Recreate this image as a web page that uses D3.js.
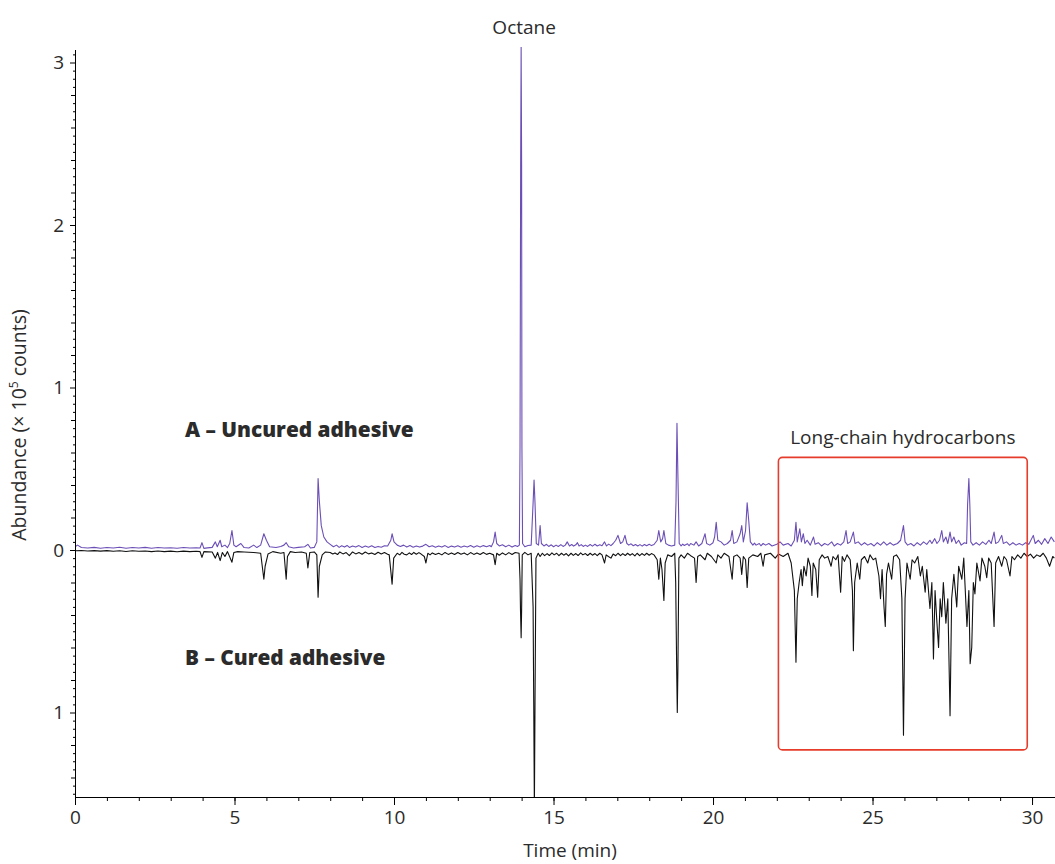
<!DOCTYPE html>
<html>
<head>
<meta charset="utf-8">
<script src="https://cdn.jsdelivr.net/npm/d3@7"></script>
<style>
  body { margin: 0; background: #fff; }
  text { font-family: "Open Sans", "Liberation Sans", sans-serif; fill: #2b2b2b; }
</style>
</head>
<body>
<script>
const width = 1055;
const height = 864;

// 目盛り
const xTicks = [0, 5, 10, 15, 20, 25, 30];
const yTicks = [-1, 0, 1, 2, 3];

// A: 未硬化 (上向き) [時間(min), 強度(×10^5)]
const uncured = [
  [0,0.02],[0.08,0.03],[0.2,0.015],[0.4,0.012],[0.6,0.016],[0.8,0.011],[1.0,0.015],[1.2,0.012],
  [1.4,0.017],[1.6,0.011],[1.8,0.015],[2.0,0.012],[2.2,0.016],[2.4,0.011],[2.6,0.015],[2.8,0.012],
  [3.0,0.014],[3.2,0.011],[3.4,0.015],[3.6,0.012],[3.8,0.014],[3.92,0.012],[3.98,0.045],[4.04,0.01],
  [4.15,0.013],[4.3,0.016],[4.4,0.05],[4.46,0.02],[4.55,0.06],[4.6,0.02],[4.7,0.03],[4.78,0.015],
  [4.85,0.04],[4.92,0.12],[4.98,0.03],[5.05,0.02],[5.2,0.04],[5.3,0.015],[5.45,0.012],[5.6,0.03],
  [5.7,0.015],[5.82,0.03],[5.92,0.1],[6.0,0.06],[6.1,0.02],[6.3,0.015],[6.45,0.022],[6.55,0.03],
  [6.62,0.045],[6.7,0.02],[6.85,0.012],[7.0,0.016],[7.2,0.02],[7.3,0.035],[7.38,0.012],[7.5,0.016],
  [7.58,0.05],[7.62,0.44],[7.66,0.3],[7.72,0.15],[7.8,0.08],[7.9,0.05],[8.0,0.035],[8.1,0.02],
  [8.2,0.03],[8.28,0.016],[8.36,0.026],[8.45,0.018],[8.53,0.028],[8.6,0.016],[8.7,0.025],[8.8,0.018],
  [8.9,0.027],[9.0,0.015],[9.1,0.024],[9.2,0.017],[9.3,0.026],[9.4,0.015],[9.5,0.022],[9.6,0.017],
  [9.7,0.026],[9.8,0.025],[9.9,0.06],[9.94,0.1],[10.0,0.05],[10.1,0.03],[10.2,0.022],[10.3,0.03],
  [10.4,0.018],[10.5,0.027],[10.6,0.017],[10.7,0.025],[10.8,0.018],[10.9,0.024],[11.0,0.035],[11.1,0.02],
  [11.2,0.026],[11.3,0.017],[11.4,0.025],[11.5,0.018],[11.6,0.027],[11.7,0.016],[11.8,0.024],[11.9,0.018],
  [12.0,0.026],[12.1,0.017],[12.2,0.025],[12.3,0.019],[12.4,0.028],[12.5,0.017],[12.6,0.026],[12.7,0.019],
  [12.8,0.027],[12.9,0.02],[13.0,0.028],[13.05,0.02],[13.12,0.05],[13.17,0.11],[13.22,0.04],[13.3,0.025],
  [13.4,0.032],[13.5,0.02],[13.6,0.03],[13.7,0.018],[13.8,0.028],[13.87,0.022],[13.93,0.03],[13.95,0.63],
  [13.97,2.37],[13.985,3.1],[14.0,2.37],[14.01,0.63],[14.03,0.04],[14.1,0.02],[14.2,0.028],[14.3,0.03],
  [14.36,0.29],[14.39,0.43],[14.42,0.29],[14.46,0.04],[14.53,0.03],[14.58,0.15],[14.62,0.04],[14.7,0.025],
  [14.78,0.035],[14.85,0.022],[14.93,0.032],[15.0,0.02],[15.08,0.03],[15.15,0.022],[15.23,0.033],[15.3,0.022],
  [15.37,0.03],[15.43,0.05],[15.5,0.025],[15.57,0.034],[15.63,0.024],[15.7,0.032],[15.75,0.045],[15.8,0.025],
  [15.87,0.033],[15.93,0.022],[16.0,0.03],[16.07,0.022],[16.15,0.034],[16.22,0.024],[16.3,0.035],[16.37,0.025],
  [16.45,0.032],[16.52,0.026],[16.6,0.05],[16.66,0.025],[16.73,0.036],[16.8,0.027],[16.87,0.04],[16.95,0.06],
  [17.02,0.09],[17.1,0.04],[17.17,0.05],[17.24,0.09],[17.3,0.04],[17.36,0.03],[17.43,0.038],[17.5,0.026],
  [17.57,0.034],[17.64,0.025],[17.71,0.033],[17.78,0.024],[17.85,0.034],[17.92,0.026],[18.0,0.035],[18.07,0.027],
  [18.15,0.034],[18.25,0.06],[18.3,0.12],[18.36,0.05],[18.42,0.07],[18.46,0.12],[18.52,0.04],[18.6,0.03],
  [18.7,0.025],[18.8,0.03],[18.84,0.3],[18.87,0.78],[18.9,0.45],[18.94,0.04],[19.0,0.025],[19.05,0.036],
  [19.1,0.028],[19.2,0.038],[19.25,0.026],[19.3,0.04],[19.4,0.03],[19.47,0.05],[19.55,0.025],[19.65,0.04],
  [19.75,0.1],[19.8,0.04],[19.9,0.03],[20.0,0.045],[20.05,0.08],[20.1,0.17],[20.15,0.06],[20.25,0.05],
  [20.35,0.03],[20.45,0.04],[20.55,0.06],[20.6,0.12],[20.65,0.04],[20.75,0.05],[20.85,0.1],[20.9,0.15],
  [20.95,0.05],[21.02,0.12],[21.07,0.29],[21.12,0.18],[21.17,0.05],[21.25,0.03],[21.3,0.042],[21.35,0.03],
  [21.45,0.04],[21.5,0.026],[21.57,0.04],[21.65,0.03],[21.75,0.04],[21.85,0.025],[22.0,0.035],[22.1,0.05],
  [22.2,0.03],[22.35,0.04],[22.45,0.025],[22.55,0.06],[22.6,0.17],[22.64,0.05],[22.72,0.13],[22.77,0.05],
  [22.83,0.1],[22.88,0.04],[22.95,0.06],[23.05,0.03],[23.15,0.08],[23.2,0.035],[23.3,0.045],[23.4,0.025],
  [23.5,0.04],[23.6,0.03],[23.72,0.05],[23.8,0.025],[23.9,0.04],[24.0,0.03],[24.1,0.05],[24.17,0.12],
  [24.22,0.04],[24.3,0.05],[24.4,0.11],[24.45,0.04],[24.55,0.05],[24.65,0.03],[24.75,0.045],[24.85,0.03],
  [24.95,0.04],[25.05,0.025],[25.15,0.045],[25.25,0.03],[25.35,0.05],[25.45,0.03],[25.55,0.045],[25.65,0.03],
  [25.78,0.04],[25.88,0.06],[25.97,0.15],[26.02,0.05],[26.1,0.03],[26.2,0.04],[26.3,0.025],[26.4,0.045],
  [26.5,0.03],[26.6,0.05],[26.7,0.035],[26.8,0.06],[26.86,0.04],[26.95,0.07],[27.02,0.04],[27.1,0.06],
  [27.17,0.12],[27.22,0.05],[27.3,0.08],[27.36,0.04],[27.43,0.11],[27.48,0.05],[27.55,0.08],[27.62,0.04],
  [27.7,0.06],[27.78,0.03],[27.88,0.045],[27.95,0.04],[27.98,0.28],[28.02,0.44],[28.05,0.28],[28.08,0.05],
  [28.15,0.03],[28.25,0.045],[28.35,0.03],[28.45,0.05],[28.55,0.035],[28.65,0.06],[28.72,0.04],[28.81,0.11],
  [28.86,0.04],[28.95,0.05],[29.05,0.09],[29.1,0.04],[29.2,0.05],[29.3,0.03],[29.4,0.045],[29.5,0.03],
  [29.6,0.04],[29.7,0.03],[29.8,0.045],[29.9,0.035],[30.04,0.09],[30.1,0.04],[30.2,0.06],[30.3,0.035],
  [30.4,0.07],[30.5,0.04],[30.6,0.08],[30.7,0.05]
];

// B: 硬化後 (下向きに描く) [時間(min), 強度(×10^5)]
const cured = [
  [0,0.005],[0.2,0.003],[0.4,0.006],[0.6,0.004],[0.8,0.007],[1.0,0.004],[1.2,0.008],[1.4,0.005],
  [1.6,0.009],[1.8,0.005],[2.0,0.008],[2.2,0.006],[2.4,0.01],[2.6,0.006],[2.8,0.01],[3.0,0.007],
  [3.2,0.011],[3.4,0.007],[3.6,0.01],[3.8,0.008],[3.92,0.01],[3.98,0.045],[4.04,0.01],[4.3,0.012],
  [4.4,0.05],[4.47,0.015],[4.55,0.065],[4.62,0.015],[4.7,0.04],[4.78,0.01],[4.92,0.075],[4.98,0.015],
  [5.1,0.01],[5.3,0.012],[5.6,0.015],[5.82,0.02],[5.92,0.18],[5.96,0.1],[6.05,0.025],[6.2,0.01],
  [6.45,0.02],[6.55,0.015],[6.62,0.18],[6.66,0.04],[6.75,0.01],[6.9,0.015],[7.1,0.012],[7.25,0.02],
  [7.3,0.11],[7.36,0.015],[7.5,0.012],[7.58,0.03],[7.62,0.29],[7.66,0.1],[7.75,0.03],[7.85,0.012],
  [8.0,0.015],[8.08,0.025],[8.15,0.018],[8.23,0.028],[8.3,0.012],[8.4,0.024],[8.5,0.016],[8.6,0.035],
  [8.7,0.012],[8.8,0.024],[8.9,0.016],[9.0,0.026],[9.1,0.012],[9.2,0.024],[9.3,0.018],[9.4,0.028],
  [9.5,0.014],[9.6,0.025],[9.7,0.016],[9.8,0.026],[9.85,0.03],[9.94,0.21],[9.99,0.05],[10.1,0.02],
  [10.18,0.03],[10.25,0.015],[10.32,0.026],[10.4,0.03],[10.48,0.018],[10.55,0.028],[10.62,0.015],[10.7,0.026],
  [10.78,0.016],[10.85,0.025],[10.95,0.04],[11.0,0.08],[11.06,0.02],[11.13,0.03],[11.2,0.018],[11.3,0.028],
  [11.4,0.02],[11.5,0.03],[11.6,0.015],[11.7,0.027],[11.8,0.018],[11.9,0.028],[12.0,0.015],[12.1,0.026],
  [12.2,0.018],[12.3,0.03],[12.4,0.016],[12.5,0.027],[12.6,0.018],[12.7,0.028],[12.8,0.015],[12.9,0.027],
  [13.0,0.02],[13.12,0.03],[13.17,0.09],[13.22,0.02],[13.3,0.032],[13.4,0.018],[13.5,0.03],[13.6,0.016],
  [13.7,0.028],[13.8,0.015],[13.92,0.02],[13.95,0.18],[13.965,0.37],[13.985,0.54],[14.0,0.37],[14.02,0.03],
  [14.1,0.015],[14.2,0.03],[14.3,0.02],[14.36,0.35],[14.38,0.94],[14.4,1.6],[14.42,0.94],[14.45,0.05],
  [14.52,0.02],[14.58,0.04],[14.65,0.02],[14.72,0.035],[14.8,0.022],[14.87,0.034],[14.95,0.018],[15.02,0.03],
  [15.1,0.02],[15.17,0.035],[15.25,0.02],[15.32,0.032],[15.4,0.022],[15.47,0.036],[15.55,0.02],[15.62,0.033],
  [15.7,0.022],[15.77,0.034],[15.85,0.018],[15.92,0.03],[16.0,0.022],[16.07,0.034],[16.15,0.02],[16.22,0.032],
  [16.3,0.022],[16.37,0.035],[16.45,0.02],[16.52,0.03],[16.6,0.08],[16.65,0.03],[16.72,0.04],[16.8,0.05],
  [16.87,0.025],[16.95,0.035],[17.02,0.02],[17.1,0.035],[17.17,0.022],[17.25,0.034],[17.32,0.02],[17.4,0.032],
  [17.47,0.022],[17.55,0.036],[17.62,0.02],[17.7,0.035],[17.77,0.022],[17.85,0.033],[17.92,0.02],[18.0,0.032],
  [18.07,0.022],[18.15,0.03],[18.25,0.06],[18.3,0.18],[18.35,0.05],[18.4,0.12],[18.46,0.31],[18.5,0.08],
  [18.58,0.03],[18.7,0.04],[18.8,0.02],[18.83,0.2],[18.86,0.72],[18.88,1.0],[18.9,0.72],[18.93,0.05],
  [19.0,0.03],[19.1,0.05],[19.2,0.02],[19.3,0.035],[19.42,0.05],[19.47,0.2],[19.52,0.04],[19.6,0.03],
  [19.75,0.06],[19.82,0.02],[19.95,0.04],[20.1,0.08],[20.15,0.03],[20.25,0.05],[20.35,0.02],[20.5,0.04],
  [20.6,0.18],[20.65,0.04],[20.75,0.03],[20.85,0.05],[20.9,0.15],[20.95,0.04],[21.02,0.06],[21.07,0.23],
  [21.12,0.05],[21.25,0.03],[21.4,0.04],[21.5,0.02],[21.57,0.1],[21.62,0.03],[21.8,0.02],[21.95,0.05],
  [22.05,0.025],[22.2,0.04],[22.35,0.02],[22.45,0.08],[22.55,0.25],[22.6,0.69],[22.64,0.3],[22.7,0.2],
  [22.76,0.12],[22.8,0.22],[22.85,0.1],[22.92,0.16],[22.98,0.05],[23.05,0.1],[23.1,0.28],[23.14,0.08],
  [23.22,0.12],[23.28,0.29],[23.33,0.06],[23.42,0.03],[23.5,0.05],[23.6,0.04],[23.7,0.1],[23.76,0.04],
  [23.85,0.06],[23.92,0.03],[24.0,0.26],[24.05,0.04],[24.12,0.07],[24.2,0.03],[24.3,0.06],[24.37,0.25],
  [24.4,0.62],[24.44,0.2],[24.52,0.08],[24.6,0.18],[24.65,0.06],[24.75,0.04],[24.85,0.08],[24.92,0.03],
  [25.02,0.06],[25.1,0.05],[25.2,0.16],[25.25,0.3],[25.3,0.12],[25.36,0.35],[25.4,0.47],[25.44,0.15],
  [25.5,0.08],[25.6,0.18],[25.66,0.04],[25.75,0.03],[25.85,0.06],[25.92,0.3],[25.97,1.14],[26.02,0.3],
  [26.08,0.08],[26.18,0.18],[26.24,0.06],[26.32,0.08],[26.42,0.04],[26.5,0.16],[26.56,0.1],[26.65,0.26],
  [26.7,0.12],[26.8,0.36],[26.86,0.2],[26.91,0.67],[26.96,0.25],[27.02,0.45],[27.07,0.6],[27.12,0.3],
  [27.17,0.41],[27.22,0.2],[27.3,0.45],[27.36,0.3],[27.43,1.02],[27.48,0.3],[27.55,0.15],[27.64,0.35],
  [27.7,0.1],[27.8,0.18],[27.86,0.05],[27.92,0.3],[27.96,0.47],[28.02,0.25],[28.06,0.7],[28.11,0.6],
  [28.16,0.2],[28.21,0.27],[28.27,0.08],[28.37,0.19],[28.43,0.05],[28.52,0.1],[28.58,0.17],[28.64,0.05],
  [28.72,0.08],[28.81,0.47],[28.86,0.08],[28.95,0.04],[29.05,0.1],[29.12,0.04],[29.2,0.06],[29.31,0.16],
  [29.37,0.04],[29.45,0.06],[29.55,0.03],[29.65,0.05],[29.75,0.02],[29.85,0.04],[29.95,0.025],[30.05,0.05],
  [30.15,0.03],[30.25,0.04],[30.35,0.02],[30.45,0.05],[30.55,0.1],[30.65,0.04],[30.7,0.05]
];

// 注釈
const peakLabel = "Octane";
const boxLabel = "Long-chain hydrocarbons";
const boxRange = [22.05, 29.85];      // min
const boxAbund = [0.57, -1.23];       // ×10^5

// SVG
const svg = d3.select("body").append("svg")
  .attr("width", width)
  .attr("height", height);

const x = d3.scaleLinear().domain([0, 30.72]).range([75, 1055]);
const y = d3.scaleLinear().domain([-1.52, 3.08]).range([797, 49.5]);

// クリップ
svg.append("clipPath").attr("id", "plot")
  .append("rect")
  .attr("x", 75).attr("y", 47)
  .attr("width", 980).attr("height", 750);

// 線
const lineA = d3.line().x(d => x(d[0])).y(d => y(d[1]));
const lineB = d3.line().x(d => x(d[0])).y(d => y(-d[1]));

const plot = svg.append("g").attr("clip-path", "url(#plot)");

plot.append("path")
  .datum(cured)
  .attr("fill", "none")
  .attr("stroke", "#111")
  .attr("stroke-width", 1.1)
  .attr("stroke-linejoin", "round")
  .attr("d", lineB);

plot.append("path")
  .datum(uncured)
  .attr("fill", "none")
  .attr("stroke", "#6b4fb6")
  .attr("stroke-width", 1.1)
  .attr("stroke-linejoin", "round")
  .attr("d", lineA);

// x軸
const xMinor = d3.range(0, 31, 1);
svg.append("g")
  .attr("transform", "translate(0,797)")
  .call(d3.axisBottom(x).tickValues(xMinor).tickSize(4).tickSizeOuter(0).tickFormat(""))
  .call(g => g.select(".domain").remove());

svg.append("g")
  .attr("class", "xaxis")
  .attr("transform", "translate(0,797)")
  .call(d3.axisBottom(x).tickValues(xTicks).tickSize(8).tickSizeOuter(0).tickPadding(6))
  .call(g => g.selectAll("text").style("font-size", "19px").attr("fill", "#2b2b2b"));

// y軸
const yMid = d3.range(-1.4, 3.01, 0.2).filter(v => Math.abs(v - Math.round(v)) > 0.01);
const ySmall = d3.range(-1.5, 3.06, 0.05).filter(v => Math.abs(v * 5 - Math.round(v * 5)) > 0.01);

svg.append("g")
  .attr("transform", "translate(75,0)")
  .call(d3.axisLeft(y).tickValues(ySmall).tickSize(2).tickSizeOuter(0).tickFormat(""))
  .call(g => g.select(".domain").remove());

svg.append("g")
  .attr("transform", "translate(75,0)")
  .call(d3.axisLeft(y).tickValues(yMid).tickSize(4).tickSizeOuter(0).tickFormat(""))
  .call(g => g.select(".domain").remove());

svg.append("g")
  .attr("class", "yaxis")
  .attr("transform", "translate(75,0)")
  .call(d3.axisLeft(y).tickValues(yTicks).tickSize(5).tickSizeOuter(0).tickPadding(6)
    .tickFormat(d => Math.abs(d)))
  .call(g => g.selectAll("text").style("font-size", "19px").attr("fill", "#2b2b2b"));

// 軸ラベル
svg.append("text")
  .attr("x", 570)
  .attr("y", 857)
  .attr("text-anchor", "middle")
  .style("font-size", "19px")
  .text("Time (min)");

const yl = svg.append("text")
  .attr("transform", "translate(26,425) rotate(-90)")
  .attr("text-anchor", "middle")
  .style("font-size", "19.5px");
yl.append("tspan").text("Abundance (× 10");
yl.append("tspan").attr("dy", -8).style("font-size", "12px").text("5");
yl.append("tspan").attr("dy", 8).text(" counts)");

// ピーク名
svg.append("text")
  .attr("x", x(13.985) + 3)
  .attr("y", 34)
  .attr("text-anchor", "middle")
  .style("font-size", "19px")
  .text(peakLabel);

// A / B ラベル
svg.append("text")
  .attr("x", 185).attr("y", 437)
  .style("font-size", "20.8px").style("font-weight", "800")
  .attr("fill", "#1e1e1e")
  .text("A – Uncured adhesive");

svg.append("text")
  .attr("x", 185).attr("y", 665)
  .style("font-size", "20.8px").style("font-weight", "800")
  .attr("fill", "#1e1e1e")
  .text("B – Cured adhesive");

// 長鎖炭化水素の枠
svg.append("rect")
  .attr("x", x(boxRange[0]))
  .attr("y", y(boxAbund[0]))
  .attr("width", x(boxRange[1]) - x(boxRange[0]))
  .attr("height", y(boxAbund[1]) - y(boxAbund[0]))
  .attr("rx", 4).attr("ry", 4)
  .attr("fill", "none")
  .attr("stroke", "#e63c2c")
  .attr("stroke-width", 1.6);

svg.append("text")
  .attr("x", (x(boxRange[0]) + x(boxRange[1])) / 2)
  .attr("y", 444)
  .attr("text-anchor", "middle")
  .style("font-size", "19px")
  .text(boxLabel);
</script>
</body>
</html>
